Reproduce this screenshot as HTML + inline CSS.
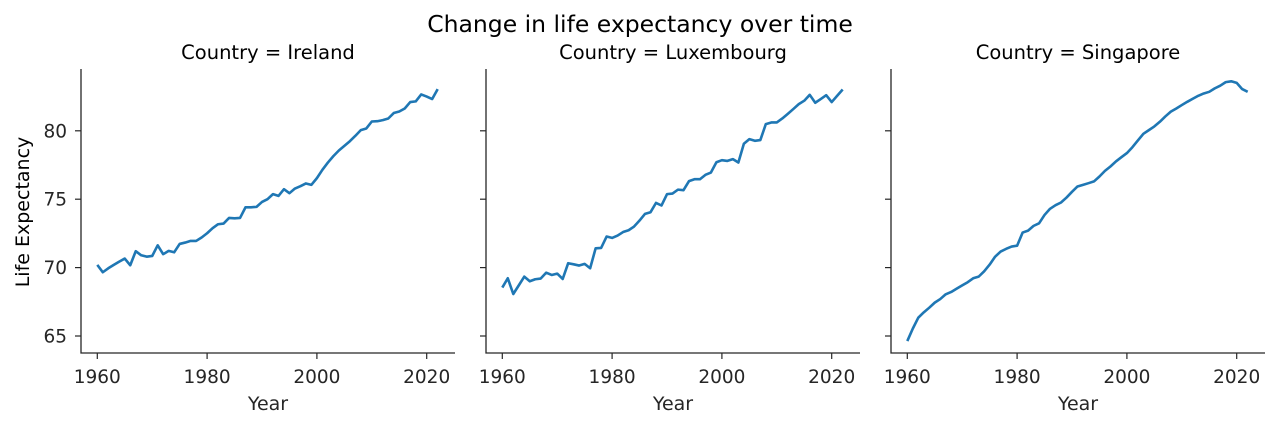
<!DOCTYPE html>
<html><head><meta charset="utf-8"><style>
body{margin:0;background:#fff;}
svg{display:block;font-family:"DejaVu Sans","Liberation Sans",sans-serif;}
</style></head><body>
<svg id="chart" width="1280" height="428">
<text x="640" y="32" font-size="23.5" text-anchor="middle">Change in life expectancy over time</text>
<text x="29" y="212" font-size="19" text-anchor="middle" transform="rotate(-90 29 212)">Life Expectancy</text>
</svg>
<script>
const years = [];
for (let y = 1960; y <= 2022; y++) years.push(y);
const countries = ["Ireland", "Luxembourg", "Singapore"];
const ireland = [70.2,69.66,69.95,70.2,70.44,70.66,70.17,71.2,70.9,70.8,70.85,71.63,70.98,71.22,71.12,71.73,71.83,71.95,71.95,72.2,72.51,72.88,73.17,73.22,73.63,73.6,73.63,74.41,74.41,74.44,74.8,75.0,75.37,75.24,75.73,75.44,75.78,75.95,76.15,76.05,76.54,77.15,77.68,78.15,78.56,78.9,79.24,79.63,80.05,80.17,80.68,80.7,80.78,80.9,81.3,81.41,81.63,82.1,82.15,82.66,82.5,82.32,83.05];
const luxembourg = [68.54,69.22,68.07,68.7,69.34,69.0,69.15,69.2,69.63,69.46,69.56,69.17,70.32,70.24,70.15,70.27,69.95,71.41,71.44,72.27,72.17,72.34,72.6,72.73,73.0,73.44,73.93,74.05,74.73,74.54,75.37,75.41,75.7,75.66,76.32,76.46,76.46,76.78,76.95,77.7,77.85,77.8,77.93,77.68,79.05,79.39,79.27,79.32,80.49,80.61,80.61,80.9,81.24,81.59,81.95,82.2,82.63,82.05,82.32,82.6,82.1,82.56,83.02];
const singapore = [64.63,65.54,66.34,66.73,67.07,67.44,67.7,68.05,68.22,68.46,68.7,68.93,69.22,69.34,69.73,70.22,70.8,71.17,71.37,71.54,71.6,72.56,72.7,73.05,73.24,73.85,74.3,74.56,74.76,75.12,75.54,75.93,76.05,76.17,76.3,76.66,77.07,77.39,77.76,78.07,78.37,78.8,79.3,79.78,80.05,80.32,80.66,81.05,81.4,81.63,81.88,82.12,82.34,82.56,82.73,82.85,83.1,83.3,83.56,83.62,83.5,83.05,82.85];
const xTicks = [1960, 1980, 2000, 2020];
const yTicks = [65, 70, 75, 80];

const series = [ireland, luxembourg, singapore];
const svgEl = document.getElementById('chart');
const NS = 'http://www.w3.org/2000/svg';
const panelLeft = [81, 486, 891];
const panelW = 374, axTop = 69, axBottom = 353;
function xs(p, yr) { return panelLeft[p] + 16.3 + (yr - 1960) * 5.49; }
function ys(v) { return 336 - (v - 65) * 13.68; }
function mk(tag, attrs) { const e = document.createElementNS(NS, tag); for (const k in attrs) e.setAttribute(k, attrs[k]); svgEl.appendChild(e); return e; }

for (let p = 0; p < 3; p++) {
  const L = panelLeft[p];
  const t = mk('text', {x: L + panelW / 2, y: 59, 'font-size': 19.5, 'text-anchor': 'middle'});
  t.textContent = 'Country = ' + countries[p];
  
  
  const sp = mk('path', {d: `M${L},${axTop}V${axBottom}H${L + panelW}`, fill: 'none', stroke: '#262626', 'stroke-width': 1.3});
  
  
  xTicks.forEach(v => {
    const x = xs(p, v);
    const tk = mk('line', {x1: x, x2: x, y1: axBottom, y2: axBottom + 6, stroke: '#262626', 'stroke-width': 1.2});
    
    
    const lb = mk('text', {x: x, y: 383, 'font-size': 18.5, 'text-anchor': 'middle', fill: '#262626'});
    lb.textContent = v;
    
    
  });
  yTicks.forEach(v => {
    const y = ys(v);
    const tk = mk('line', {x1: L - 6, x2: L, y1: y, y2: y, stroke: '#262626', 'stroke-width': 1.2});
    
    
    if (p === 0) {
      const lb = mk('text', {x: L - 14, y: y + 6.5, 'font-size': 18.5, 'text-anchor': 'end', fill: '#262626'});
      lb.textContent = v;
      
      
    }
  });
  const xl = mk('text', {x: L + panelW / 2, y: 410, 'font-size': 19, 'text-anchor': 'middle', fill: '#262626'});
  xl.textContent = 'Year';
  
  
  const d = series[p].map((v, i) => (i ? 'L' : 'M') + xs(p, years[i]).toFixed(2) + ',' + ys(v).toFixed(2)).join('');
  const ln = mk('path', {d: d, fill: 'none', stroke: '#1f77b4', 'stroke-width': 2.6, 'stroke-linejoin': 'round'});
  
  
}
</script>
</body></html>
